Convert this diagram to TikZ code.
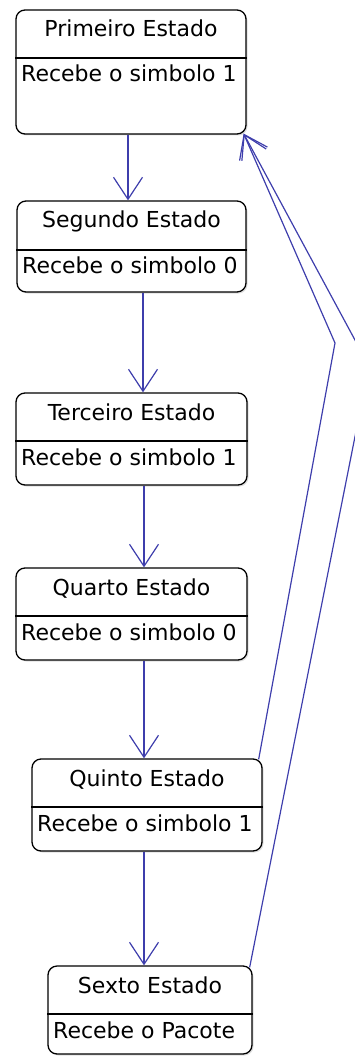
\documentclass[tikz,border=0pt]{standalone}
\usepackage{fontspec}
\setmainfont{DejaVu Sans}
\usetikzlibrary{arrows.meta,fit,shadows}
\definecolor{flowblue}{RGB}{62,62,172}

% one state: name, left, top, right, bottom, divider y, title, body
\newcommand\makestate[8]{%
  \coordinate (#1-nw) at (#2,#3);
  \coordinate (#1-se) at (#4,#5);
  \coordinate (#1-d) at (0,#6);
  \node[statebox, fit=(#1-nw)(#1-se)] (#1) {};
  \draw[divider] (#1.west |- #1-d) -- (#1.east |- #1-d);
  \node[statetext] (#1-title) at ({(#2+#4)/2},{#3+27}) {#7};
  \node[bodytext] (#1-body) at ({#2+5},{#6+24}) {#8};
}

\begin{document}
\begin{tikzpicture}[x=1pt,y=-1pt,
  statebox/.style={draw=black, line width=1.3pt, rounded corners=9pt, fill=white,
    inner sep=0pt,
    drop shadow={shadow xshift=1.5pt, shadow yshift=-1.5pt, opacity=0.25}},
  divider/.style={draw=black, line width=1.1pt},
  statetext/.style={font=\fontsize{22}{26}\selectfont, inner sep=0pt, anchor=base},
  bodytext/.style={statetext, anchor=base west},
  flow/.style={draw=flowblue, line width=1.2pt,
    -{Straight Barb[length=22pt,width=29pt,line width=1.2pt]}}
]
\useasboundingbox (0,0) rectangle (355,1056);
\clip (0,0) rectangle (355,1056);

\makestate{s1}{16}{10}{246}{134}{58}{Primeiro Estado}{Recebe o simbolo 1}
\makestate{s2}{17}{201}{246}{292}{250}{Segundo Estado}{Recebe o simbolo 0}
\makestate{s3}{16}{393}{247}{485}{441}{Terceiro Estado}{Recebe o simbolo 1}
\makestate{s4}{16}{568}{247}{660}{616}{Quarto Estado}{Recebe o simbolo 0}
\makestate{s5}{32}{759}{262}{851}{807}{Quinto Estado}{Recebe o simbolo 1}
\makestate{s6}{48}{966}{252}{1054}{1014}{Sexto Estado}{Recebe o Pacote}

% forward transitions
\draw[flow] ([xshift=-3pt]s1.south) -- ([xshift=-3.5pt]s2.north);
\draw[flow] ([xshift=11.5pt]s2.south) -- ([xshift=11.5pt]s3.north);
\draw[flow] ([xshift=12.5pt]s3.south) -- ([xshift=12.5pt]s4.north);
\draw[flow] ([xshift=12.5pt]s4.south) -- ([xshift=-3pt]s5.north);
\draw[flow] ([xshift=-3pt]s5.south) -- ([xshift=-6pt]s6.north);

% transitions back to the first state
\coordinate (k5) at (335,343);
\coordinate (k6) at (369,366);
\draw[flow] ([xshift=-4pt,yshift=-1pt]s5.north east) -- (k5)
  -- ([xshift=-3pt,yshift=1pt]s1.south east);
\draw[flow] ([xshift=-3pt,yshift=-2pt]s6.north east) -- (k6)
  -- ([xshift=-3pt,yshift=1pt]s1.south east);
\end{tikzpicture}
\end{document}
